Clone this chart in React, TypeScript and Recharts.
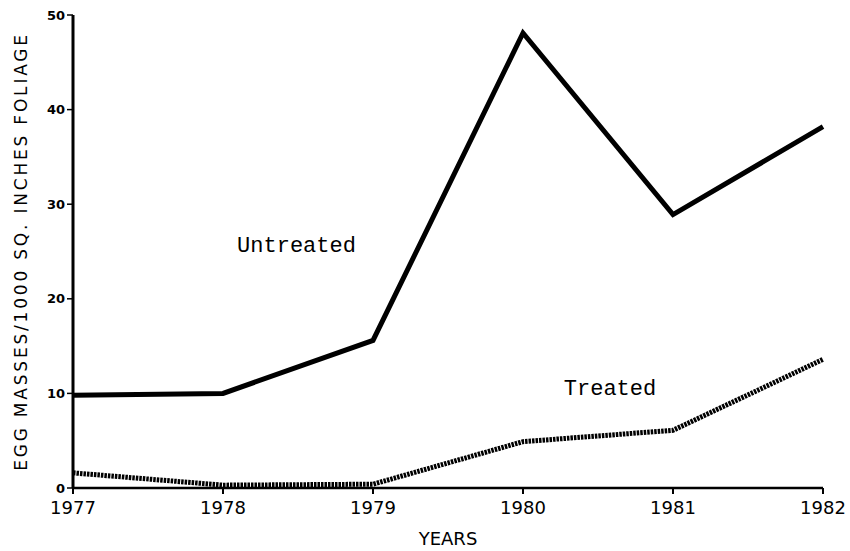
import React from "react";
import {
  LineChart,
  Line,
  XAxis,
  YAxis,
  Label,
  ReferenceDot,
} from "recharts";

const years = [1977, 1978, 1979, 1980, 1981, 1982];
const untreated = [9.8, 10.0, 15.6, 48.1, 28.9, 38.2];
const treated = [1.6, 0.3, 0.4, 4.9, 6.1, 13.6];
const yTicks = [0, 10, 20, 30, 40, 50];

const data = years.map((year, i) => ({
  year,
  untreated: untreated[i],
  treated: treated[i],
}));

const sans = "'DejaVu Sans', sans-serif";
const mono = "'Liberation Mono', 'DejaVu Sans Mono', monospace";

export default function App() {
  return (
    <div style={{ position: "absolute", left: 0, top: 0, background: "#fff" }}>
      <LineChart
        width={850}
        height={551}
        data={data}
        margin={{ left: 0, right: 27, top: 15, bottom: 0 }}
      >
        <XAxis
          dataKey="year"
          type="number"
          domain={[1977, 1982]}
          ticks={years}
          interval={0}
          axisLine={{ stroke: "#000", strokeWidth: 2.5 }}
          tickLine={{ stroke: "#000", strokeWidth: 2 }}
          tickSize={6}
          tickMargin={7}
          tick={{ fill: "#000", fontSize: 18, fontFamily: sans }}
          height={63}
        >
          <Label
            value="YEARS"
            position="insideBottom"
            offset={6}
            style={{ fill: "#000", fontSize: 18, fontFamily: sans }}
          />
        </XAxis>
        <YAxis
          type="number"
          domain={[0, 50]}
          ticks={yTicks}
          interval={0}
          width={73}
          axisLine={{ stroke: "#000", strokeWidth: 3 }}
          tickLine={{ stroke: "#000", strokeWidth: 1.5 }}
          tickSize={6}
          tick={{
            fill: "#000",
            fontSize: 13,
            fontWeight: "bold",
            fontFamily: sans,
          }}
        >
          <Label
            value="EGG  MASSES/1000  SQ.  INCHES  FOLIAGE"
            angle={-90}
            position="insideLeft"
            offset={21}
            style={{
              fill: "#000",
              fontSize: 17,
              fontFamily: sans,
              textAnchor: "middle",
              letterSpacing: 2.8,
            }}
          />
        </YAxis>
        <Line
          type="linear"
          dataKey="untreated"
          stroke="#000"
          strokeWidth={5}
          strokeLinejoin="miter"
          dot={false}
          isAnimationActive={false}
        />
        <Line
          type="linear"
          dataKey="treated"
          stroke="#000"
          strokeWidth={5}
          strokeDasharray="2.5 1"
          dot={false}
          isAnimationActive={false}
        />
        <ReferenceDot
          x={1978.49}
          y={25.8}
          r={0}
          fill="none"
          stroke="none"
          label={{
            value: "Untreated",
            position: "center",
            fill: "#000",
            fontSize: 22,
            fontFamily: mono,
          }}
        />
        <ReferenceDot
          x={1980.58}
          y={10.7}
          r={0}
          fill="none"
          stroke="none"
          label={{
            value: "Treated",
            position: "center",
            fill: "#000",
            fontSize: 22,
            fontFamily: mono,
          }}
        />
      </LineChart>
    </div>
  );
}
